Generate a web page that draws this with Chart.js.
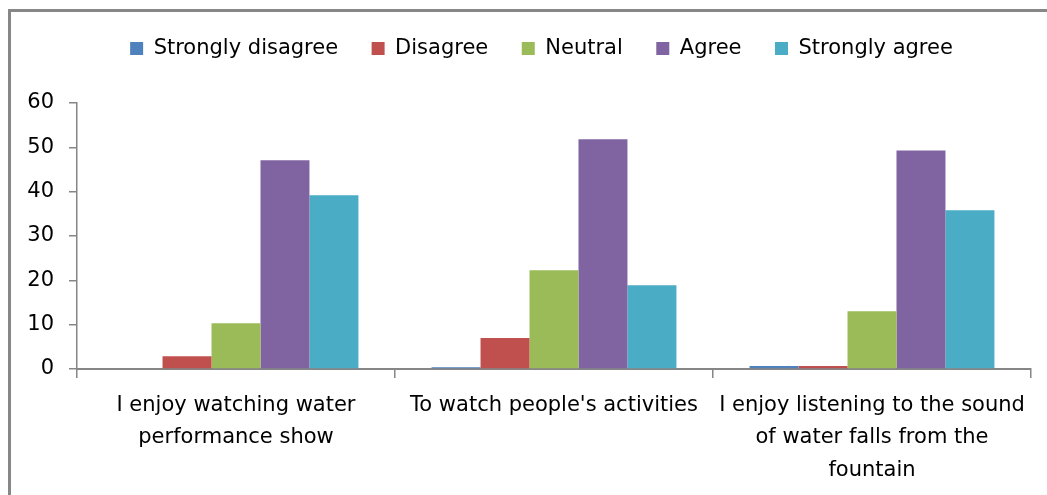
<!DOCTYPE html>
<html>
<head>
<meta charset="utf-8">
<script src="https://cdn.jsdelivr.net/npm/chart.js@4/dist/chart.umd.min.js"></script>
<style>
  html, body { margin: 0; padding: 0; background: #fff; }
  #wrap { width: 1047px; height: 495px; }
</style>
</head>
<body>
<div id="wrap"><canvas id="chart_survey"></canvas></div>
<script>
// categories (x axis, wrapped the way the original shows them)
const categories = [
    ['I enjoy watching water', 'performance show'],
    ["To watch people's activities"],
    ['I enjoy listening to the sound', 'of water falls from the', 'fountain'],
];

// series values
const stronglyDisagree = [0, 0.4, 0.7];
const disagree = [2.9, 7.0, 0.7];
const neutral = [10.3, 22.3, 13.0];
const agree = [47.1, 51.8, 49.3];
const stronglyAgree = [39.2, 18.9, 35.8];

const seriesNames = ['Strongly disagree', 'Disagree', 'Neutral', 'Agree', 'Strongly agree'];
const seriesColors = ['#4F81BD', '#C0504D', '#9BBB59', '#8064A2', '#4BACC6'];

// y axis ticks 0..60
const yMin = 0;
const yMax = 60;
const yStep = 10;

Chart.defaults.font.family = "'DejaVu Sans', 'Liberation Sans', sans-serif";
Chart.defaults.color = '#000';

// grey frame around the chart, like the office chart border
const frame = {
    id: 'frame',
    beforeDraw(chart) {
        const ctx = chart.ctx;
        ctx.save();
        ctx.fillStyle = '#878787';
        ctx.fillRect(8, 9, 3, chart.height);
        ctx.fillRect(8, 9, chart.width, 3);
        ctx.restore();
    }
};

// more room under the legend, and centre it over the plot like the original
const legendSpace = {
    id: 'legendSpace',
    beforeInit(chart) {
        const fit = chart.legend.fit;
        chart.legend.fit = function () {
            fit.call(this);
            this.height += 34;
        };
    },
    afterLayout(chart) {
        chart.legend.left += 20;
        chart.legend.right += 20;
    }
};

const allSeries = [stronglyDisagree, disagree, neutral, agree, stronglyAgree];

new Chart(document.getElementById('chart_survey'), {
    type: 'bar',
    data: {
        labels: categories,
        datasets: allSeries.map((vals, i) => ({
            label: seriesNames[i],
            data: vals,
            backgroundColor: seriesColors[i],
            borderWidth: 0,
            categoryPercentage: 0.77,
            barPercentage: 1.0,
        })),
    },
    options: {
        responsive: true,
        maintainAspectRatio: false,
        animation: false,
        layout: { padding: { left: 12, right: 16, top: 4.5, bottom: 0 } },
        plugins: {
            legend: {
                position: 'top',
                labels: {
                    boxWidth: 13,
                    boxHeight: 13,
                    padding: 33.5,
                    font: { size: 21 },
                    color: '#000',
                },
            },
            tooltip: { enabled: false },
        },
        scales: {
            x: {
                afterFit: (scale) => { scale.height = 126; },
                grid: {
                    drawOnChartArea: false,
                    drawTicks: true,
                    tickLength: 9,
                    color: '#868686',
                    lineWidth: 1.5,
                },
                border: { color: '#868686', width: 2 },
                ticks: {
                    padding: 11,
                    font: { size: 21, lineHeight: 1.55 },
                    color: '#000',
                    maxRotation: 0,
                    autoSkip: false,
                },
            },
            y: {
                min: yMin,
                max: yMax,
                afterFit: (scale) => { scale.width = 65; },
                grid: {
                    drawOnChartArea: false,
                    drawTicks: true,
                    tickLength: 8,
                    color: '#868686',
                    lineWidth: 1.5,
                },
                border: { color: '#868686', width: 1.5 },
                ticks: {
                    stepSize: yStep,
                    padding: 15,
                    font: { size: 21 },
                    color: '#000',
                },
            },
        },
    },
    plugins: [frame, legendSpace],
});
</script>
</body>
</html>
